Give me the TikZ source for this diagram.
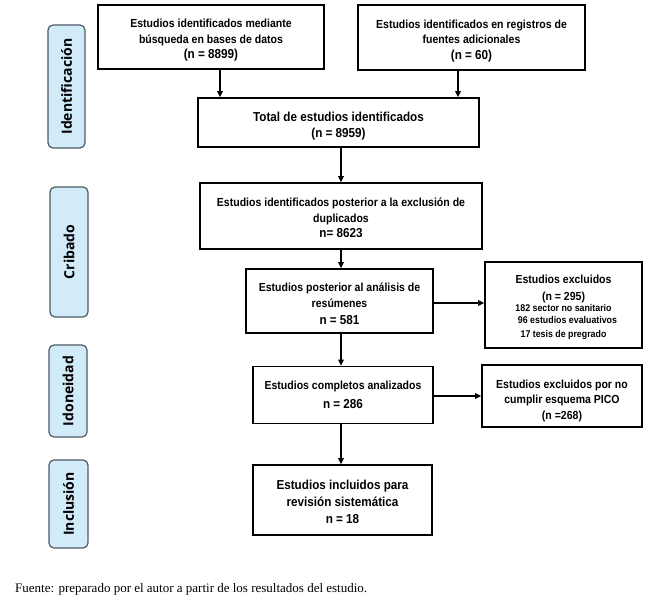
\documentclass[tikz,border=0pt]{standalone}
\usepackage{fontspec}
\setmainfont{Liberation Serif}
\setsansfont{Liberation Sans}[FakeStretch=0.9]
\newfontfamily\sidefont{Open Sans}
\usetikzlibrary{arrows.meta,calc}
\definecolor{sidefill}{HTML}{D2EBF9}
\definecolor{sidedraw}{HTML}{4F5B66}
\newcommand{\numl}[1]{{\fontsize{13}{15.5}\selectfont #1}}
\newcommand{\sml}{\fontsize{9.8}{12.5}\selectfont}
\newcommand{\dn}[1]{\rule{0pt}{#1pt}}
\begin{document}
\begin{tikzpicture}[x=1pt,y=-1pt,
  box/.style={draw=black,line width=1.6pt,fill=white,align=center,inner sep=0pt,
    font=\sffamily\bfseries\fontsize{11.7}{15.5}\selectfont},
  side/.style={draw=sidedraw,line width=1.2pt,fill=sidefill,rounded corners=5pt,
    inner sep=0pt},
  sidetext/.style={rotate=90,font=\sidefont\bfseries\fontsize{14}{16}\selectfont},
  arr/.style={line width=1.3pt,-{Triangle[length=6pt,width=5.5pt]}}]
\useasboundingbox (0,0) rectangle (660,602);
% side labels
\node[side,minimum width=37,minimum height=123] (sid) at (66.5,86.5) {};
\node[sidetext] (sidt) at (sid.center) {Identificación};
\node[side,minimum width=38,minimum height=130] (scr) at (69,252) {};
\node[sidetext] (scrt) at (scr.center) {Cribado};
\node[side,minimum width=38,minimum height=92] (sido) at (68,391) {};
\node[sidetext] (sidot) at (sido.center) {Idoneidad};
\node[side,minimum width=39,minimum height=88] (sinc) at (68.5,504) {};
\node[sidetext] (sinct) at (sinc.center) {Inclusión};
% boxes
\node[box,minimum width=226,minimum height=64] (b1) at (211,37)
  {\dn{15.5}Estudios identificados mediante\\búsqueda en bases de datos\\\numl{(n = 8899)}};
\node[box,minimum width=227,minimum height=65] (b2) at (471.5,37.5)
  {\dn{15.5}Estudios identificados en registros de\\fuentes adicionales\\\numl{(n = 60)}};
\node[box,minimum width=281,minimum height=49,font=\sffamily\bfseries\fontsize{13}{16.5}\selectfont] (b3) at (338.5,122.5)
  {\dn{16.5}Total de estudios identificados\\(n = 8959)};
\node[box,minimum width=282,minimum height=66] (b4) at (341,216)
  {\dn{12.5}Estudios identificados posterior a la exclusión de\\duplicados\\\numl{n= 8623}};
\node[box,minimum width=187,minimum height=64] (b5) at (339.5,301)
  {\dn{13.5}Estudios posterior al análisis de\\[1pt]resúmenes\\[1pt]\numl{n = 581}};
\node[box,minimum width=157,minimum height=86,font=\sffamily\bfseries\fontsize{11.7}{16}\selectfont] (ex) at (563.5,305)
  {\dn{12.5}Estudios excluidos\\[1pt](n = 295)\\[-5pt]
   \sml 182 sector no sanitario\\[-4pt]
   \sml\hspace*{8pt}96 estudios evaluativos\\[-2pt]
   \sml 17 tesis de pregrado};
\node[box,minimum width=180,minimum height=57] (b6) at (343,395)
  {Estudios completos analizados\\[4pt]\numl{n = 286}};
\node[box,minimum width=160,minimum height=62] (pi) at (562,396)
  {\dn{17.5}Estudios excluidos por no\\cumplir esquema PICO\\(n =268)};
\node[box,minimum width=179,minimum height=70,font=\sffamily\bfseries\fontsize{13}{17}\selectfont] (b7) at (342.5,500)
  {\dn{13.5}Estudios incluidos para\\revisión sistemática\\n = 18};
% arrows
\draw[arr] (b1.south -| 220,0) -- (b3.north -| 220,0);
\draw[arr] (b2.south -| 458,0) -- (b3.north -| 458,0);
\draw[arr] (b3.south -| 341,0) -- (b4.north -| 341,0);
\draw[arr] (b4.south -| 341,0) -- (b5.north -| 341,0);
\draw[arr] (b5.south -| 341,0) -- (b6.north -| 341,0);
\draw[arr] (b6.south -| 341,0) -- (b7.north -| 341,0);
\draw[arr] (b5.east |- 0,303) -- (ex.west |- 0,303);
\draw[arr] (b6.east |- 0,396) -- (pi.west |- 0,396);
% footer
\node[anchor=base west,inner sep=0pt,font=\rmfamily\fontsize{13}{15}\selectfont] (foot) at (15,592)
  {Fuente: preparado por el autor a partir de los resultados del estudio.};
\end{tikzpicture}
\end{document}
